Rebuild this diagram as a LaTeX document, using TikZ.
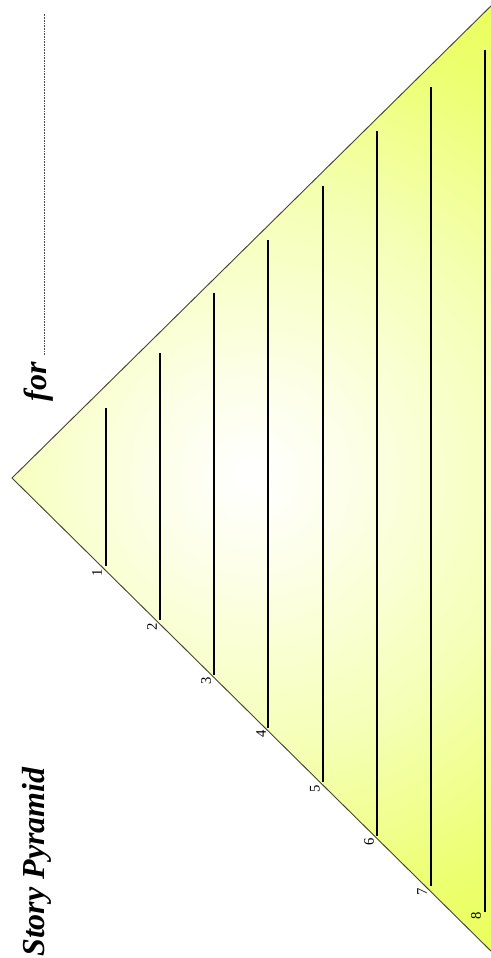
\documentclass[tikz,border=0pt]{standalone}
\usepackage{fontspec}
\setmainfont{Liberation Serif}
\definecolor{pyra}{RGB}{253,255,235}
\definecolor{pyrb}{RGB}{245,255,180}
\definecolor{pyrc}{RGB}{236,255,110}
\definecolor{pyrd}{RGB}{230,255,40}
\definecolor{pyre}{RGB}{228,255,20}
\definecolor{pyredge}{RGB}{70,70,50}
\pgfdeclareradialshading{pyr}{\pgfpoint{0bp}{0bp}}{color(0bp)=(white); color(4bp)=(pyra); color(13bp)=(pyrb); color(21bp)=(pyrc); color(36bp)=(pyrd); color(50bp)=(pyre)}
\begin{document}
\begin{tikzpicture}[x=0.75pt,y=-0.75pt,
  edge/.style={draw=pyredge, line width=0.7pt},
  rulestroke/.style={draw=black, line width=0.85pt},
  num/.style={font=\fontsize{11}{13}\selectfont, rotate=90, inner sep=0pt},
  titletext/.style={font=\fontsize{24}{28}\selectfont\bfseries\itshape, rotate=90, inner sep=0pt}]
\useasboundingbox (0,0) rectangle (490,958);
% pyramid
\coordinate (apex) at (12,478);
\coordinate (tr) at (496,1);
\coordinate (br) at (496,956);
\coordinate (glow) at (252,476);
\begin{scope}
  \clip (apex) -- (tr) -- (br) -- cycle;
  \fill[pyre] (apex) -- (tr) -- (br) -- cycle;
  \shade[shading=pyr] (glow) circle (405pt);
\end{scope}
\draw[edge] (tr) -- (apex) -- (br);
% rules
\foreach \i/\x/\t/\b in {1/106/408/566, 2/160/353/620, 3/214/293/675, 4/268/240/728, 5/323/186/782, 6/377/131/836, 7/431/87/886, 8/485/50/912}{
  \coordinate (t\i) at (\x,\t);
  \coordinate (b\i) at (\x,\b);
  \draw[rulestroke] (t\i) -- (b\i);
}
% numbers
\foreach \i/\x/\y in {1/97/573, 2/152/627, 3/206/681, 4/261/734, 5/315/789, 6/369/842, 7/422/892, 8/476/916}{
  \node[num] (n\i) at (\x,\y) {\i};
}
% titles
\node[titletext, anchor=base west] (title) at (45,957) {Story Pyramid};
\node[titletext, anchor=base east] (for) at (46,362) {for};
\coordinate (d1) at (44.7,355);
\coordinate (d2) at (44.7,14);
\draw[line width=0.4pt, dash pattern=on 0.6pt off 0.6pt, draw=black!70] (d1) -- (d2);
\end{tikzpicture}
\end{document}
